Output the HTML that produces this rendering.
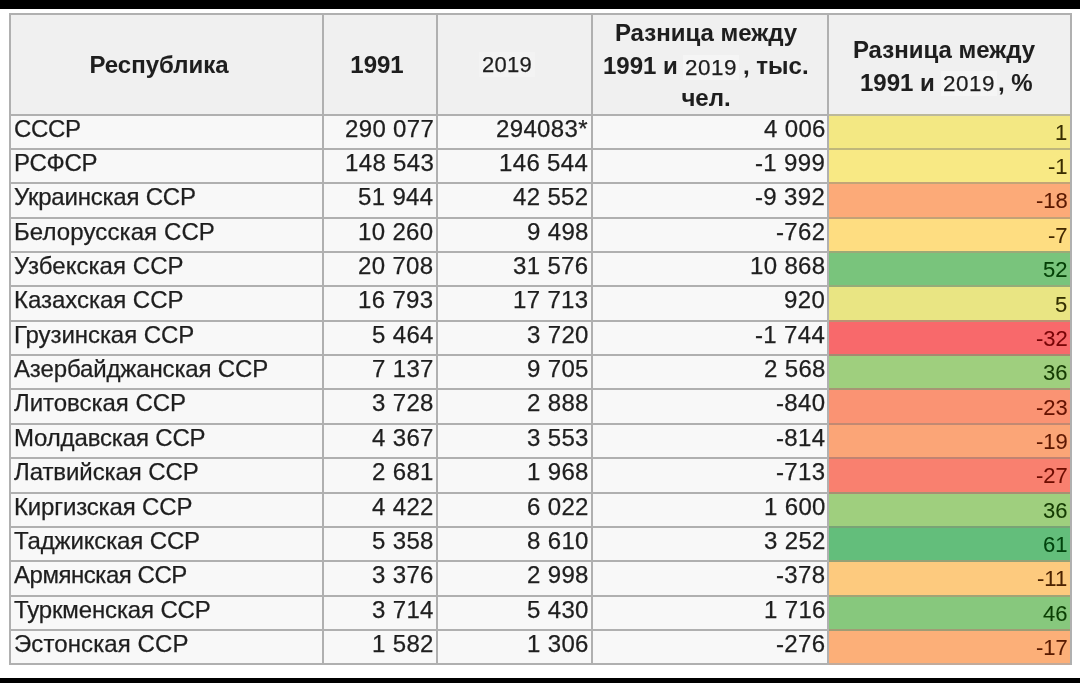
<!DOCTYPE html><html><head><meta charset="utf-8"><style>
*{margin:0;padding:0;box-sizing:border-box}
html,body{width:1080px;height:683px;overflow:hidden;background:#fff}
body{position:relative;font-family:"Liberation Sans",sans-serif;color:#1e1e1e}
.a{position:absolute}
.h{background:#b0b0b0}
.t{position:absolute;white-space:nowrap;will-change:transform;-webkit-text-stroke:0.25px currentColor}
.b{font-weight:bold;-webkit-text-stroke:0.05px currentColor}
.y{font-weight:normal}
</style></head><body><div style="position:absolute;left:0;top:0;width:1080px;height:683px">

<div class="a" style="left:0;top:0;width:1080px;height:9px;background:#000"></div>
<div class="a" style="left:0;top:678px;width:1080px;height:5px;background:#000"></div>
<div class="a" style="left:10px;top:14px;width:1060.5px;height:100.4px;background:#f0f0f0"></div>
<div class="a" style="left:10px;top:114.4px;width:1060.5px;height:550px;background:#f8f8f8"></div>
<div class="a" style="left:828px;top:114px;width:242px;height:35px;background:rgb(243, 232, 131)"></div>
<div class="a" style="left:828px;top:149px;width:242px;height:34px;background:rgb(248, 233, 132)"></div>
<div class="a" style="left:828px;top:183px;width:242px;height:34px;background:rgb(252, 170, 120)"></div>
<div class="a" style="left:828px;top:217px;width:242px;height:35px;background:rgb(254, 221, 129)"></div>
<div class="a" style="left:828px;top:252px;width:242px;height:34px;background:rgb(121, 196, 124)"></div>
<div class="a" style="left:828px;top:286px;width:242px;height:35px;background:rgb(233, 229, 131)"></div>
<div class="a" style="left:828px;top:321px;width:242px;height:34px;background:rgb(248, 105, 107)"></div>
<div class="a" style="left:828px;top:355px;width:242px;height:34px;background:rgb(159, 207, 126)"></div>
<div class="a" style="left:828px;top:389px;width:242px;height:35px;background:rgb(250, 147, 115)"></div>
<div class="a" style="left:828px;top:424px;width:242px;height:34px;background:rgb(251, 165, 119)"></div>
<div class="a" style="left:828px;top:458px;width:242px;height:34px;background:rgb(249, 128, 111)"></div>
<div class="a" style="left:828px;top:492px;width:242px;height:35px;background:rgb(159, 207, 126)"></div>
<div class="a" style="left:828px;top:527px;width:242px;height:34px;background:rgb(99, 190, 123)"></div>
<div class="a" style="left:828px;top:561px;width:242px;height:34px;background:rgb(253, 202, 126)"></div>
<div class="a" style="left:828px;top:595px;width:242px;height:35px;background:rgb(135, 200, 125)"></div>
<div class="a" style="left:828px;top:630px;width:242px;height:34px;background:rgb(252, 175, 120)"></div>
<div class="a h" style="left:9px;top:13px;width:1062.5px;height:2px"></div>
<div class="a h" style="left:9px;top:114px;width:1062.5px;height:2px"></div>
<div class="a h" style="left:9px;top:148px;width:1062.5px;height:2px"></div>
<div class="a h" style="left:9px;top:182px;width:1062.5px;height:2px"></div>
<div class="a h" style="left:9px;top:217px;width:1062.5px;height:2px"></div>
<div class="a h" style="left:9px;top:251px;width:1062.5px;height:2px"></div>
<div class="a h" style="left:9px;top:285px;width:1062.5px;height:2px"></div>
<div class="a h" style="left:9px;top:320px;width:1062.5px;height:2px"></div>
<div class="a h" style="left:9px;top:354px;width:1062.5px;height:2px"></div>
<div class="a h" style="left:9px;top:388px;width:1062.5px;height:2px"></div>
<div class="a h" style="left:9px;top:423px;width:1062.5px;height:2px"></div>
<div class="a h" style="left:9px;top:457px;width:1062.5px;height:2px"></div>
<div class="a h" style="left:9px;top:492px;width:1062.5px;height:2px"></div>
<div class="a h" style="left:9px;top:526px;width:1062.5px;height:2px"></div>
<div class="a h" style="left:9px;top:560px;width:1062.5px;height:2px"></div>
<div class="a h" style="left:9px;top:595px;width:1062.5px;height:2px"></div>
<div class="a h" style="left:9px;top:629px;width:1062.5px;height:2px"></div>
<div class="a h" style="left:9px;top:663px;width:1062.5px;height:2px"></div>
<div class="a" style="left:828px;top:114px;width:242px;height:2px;background:rgb(188, 185, 155)"></div>
<div class="a" style="left:828px;top:148px;width:242px;height:2px;background:rgb(191, 183, 122)"></div>
<div class="a" style="left:828px;top:182px;width:242px;height:2px;background:rgb(194, 164, 119)"></div>
<div class="a" style="left:828px;top:217px;width:242px;height:2px;background:rgb(195, 161, 118)"></div>
<div class="a" style="left:828px;top:251px;width:242px;height:2px;background:rgb(156, 169, 119)"></div>
<div class="a" style="left:828px;top:285px;width:242px;height:2px;background:rgb(150, 171, 120)"></div>
<div class="a" style="left:828px;top:320px;width:242px;height:2px;background:rgb(188, 144, 115)"></div>
<div class="a" style="left:828px;top:354px;width:242px;height:2px;background:rgb(166, 137, 113)"></div>
<div class="a" style="left:828px;top:388px;width:242px;height:2px;background:rgb(166, 150, 116)"></div>
<div class="a" style="left:828px;top:423px;width:242px;height:2px;background:rgb(194, 137, 114)"></div>
<div class="a" style="left:828px;top:457px;width:242px;height:2px;background:rgb(194, 131, 113)"></div>
<div class="a" style="left:828px;top:492px;width:242px;height:2px;background:rgb(166, 144, 115)"></div>
<div class="a" style="left:828px;top:526px;width:242px;height:2px;background:rgb(121, 163, 118)"></div>
<div class="a" style="left:828px;top:560px;width:242px;height:2px;background:rgb(149, 161, 118)"></div>
<div class="a" style="left:828px;top:595px;width:242px;height:2px;background:rgb(160, 164, 119)"></div>
<div class="a" style="left:828px;top:629px;width:242px;height:2px;background:rgb(160, 156, 117)"></div>
<div class="a" style="left:828px;top:663px;width:242px;height:2px;background:rgb(194, 171, 155)"></div>
<div class="a h" style="left:9px;top:13px;width:2px;height:652px"></div>
<div class="a h" style="left:322px;top:13px;width:2px;height:652px"></div>
<div class="a h" style="left:436px;top:13px;width:2px;height:652px"></div>
<div class="a h" style="left:591px;top:13px;width:2px;height:652px"></div>
<div class="a h" style="left:827px;top:13px;width:2px;height:652px"></div>
<div class="a h" style="left:1070px;top:13px;width:2px;height:652px"></div>
<div class="t b" style="left:-91.20px;width:500px;text-align:center;top:51.28px;font-size:24px;line-height:27.0px;">Республика</div>
<div class="t b" style="left:127.20px;width:500px;text-align:center;top:51.38px;font-size:24px;line-height:27.0px;">1991</div>
<div class="t " style="left:257.00px;width:500px;text-align:center;top:53.00px;font-size:22px;line-height:24.75px;letter-spacing:0.3px"><span style="background:#f3f3f3;padding:0 3px">2019</span></div>
<div class="t b" style="left:455.90px;width:500px;text-align:center;top:18.68px;font-size:24px;line-height:27.0px;">Разница между</div>
<div class="t b" style="left:603.00px;top:51.78px;font-size:24px;line-height:27.0px;">1991 и</div>
<div class="t " style="left:682.50px;top:54.84px;font-size:22.4px;line-height:25.2px;letter-spacing:0.55px;background:#f5f5f5;padding:0 2px">2019</div>
<div class="t b" style="left:742.50px;top:51.78px;font-size:24px;line-height:27.0px;">, тыс.</div>
<div class="t b" style="left:455.90px;width:500px;text-align:center;top:83.78px;font-size:24px;line-height:27.0px;">чел.</div>
<div class="t b" style="left:693.90px;width:500px;text-align:center;top:35.68px;font-size:24px;line-height:27.0px;">Разница между</div>
<div class="t b" style="left:859.50px;top:68.78px;font-size:24px;line-height:27.0px;">1991 и</div>
<div class="t " style="left:941.00px;top:71.24px;font-size:22.4px;line-height:25.2px;letter-spacing:0.55px;background:#f5f5f5;padding:0 2px">2019</div>
<div class="t b" style="left:998.00px;top:68.78px;font-size:24px;line-height:27.0px;">, %</div>
<div class="t " style="left:14.00px;top:114.58px;font-size:24px;line-height:27.0px;letter-spacing:-0.367px">СССР</div>
<div class="t " style="right:646.50px;text-align:right;top:114.58px;font-size:24px;line-height:27.0px;letter-spacing:0.35px;margin-right:-0.35px">290 077</div>
<div class="t " style="right:492.00px;text-align:right;top:114.58px;font-size:24px;line-height:27.0px;letter-spacing:0.35px;margin-right:-0.35px">294083*</div>
<div class="t " style="right:255.00px;text-align:right;top:114.58px;font-size:24px;line-height:27.0px;letter-spacing:0.35px;margin-right:-0.35px">4 006</div>
<div class="t " style="right:12.50px;text-align:right;top:120.70px;font-size:22px;line-height:24.75px;color:rgb(55, 46, 0);-webkit-text-stroke:0.1px currentColor">1</div>
<div class="t " style="left:14.00px;top:148.94px;font-size:24px;line-height:27.0px;letter-spacing:-0.275px">РСФСР</div>
<div class="t " style="right:646.50px;text-align:right;top:148.94px;font-size:24px;line-height:27.0px;letter-spacing:0.35px;margin-right:-0.35px">148 543</div>
<div class="t " style="right:492.00px;text-align:right;top:148.94px;font-size:24px;line-height:27.0px;letter-spacing:0.35px;margin-right:-0.35px">146 544</div>
<div class="t " style="right:255.00px;text-align:right;top:148.94px;font-size:24px;line-height:27.0px;letter-spacing:0.35px;margin-right:-0.35px">-1 999</div>
<div class="t " style="right:12.50px;text-align:right;top:155.06px;font-size:22px;line-height:24.75px;color:rgb(57, 45, 0);-webkit-text-stroke:0.1px currentColor">-1</div>
<div class="t " style="left:14.00px;top:183.30px;font-size:24px;line-height:27.0px;letter-spacing:-0.215px">Украинская ССР</div>
<div class="t " style="right:646.50px;text-align:right;top:183.30px;font-size:24px;line-height:27.0px;letter-spacing:0.35px;margin-right:-0.35px">51 944</div>
<div class="t " style="right:492.00px;text-align:right;top:183.30px;font-size:24px;line-height:27.0px;letter-spacing:0.35px;margin-right:-0.35px">42 552</div>
<div class="t " style="right:255.00px;text-align:right;top:183.30px;font-size:24px;line-height:27.0px;letter-spacing:0.35px;margin-right:-0.35px">-9 392</div>
<div class="t " style="right:12.50px;text-align:right;top:189.42px;font-size:22px;line-height:24.75px;color:rgb(90, 24, 0);-webkit-text-stroke:0.1px currentColor">-18</div>
<div class="t " style="left:14.00px;top:217.66px;font-size:24px;line-height:27.0px;letter-spacing:0.1px">Белорусская ССР</div>
<div class="t " style="right:646.50px;text-align:right;top:217.66px;font-size:24px;line-height:27.0px;letter-spacing:0.35px;margin-right:-0.35px">10 260</div>
<div class="t " style="right:492.00px;text-align:right;top:217.66px;font-size:24px;line-height:27.0px;letter-spacing:0.35px;margin-right:-0.35px">9 498</div>
<div class="t " style="right:255.00px;text-align:right;top:217.66px;font-size:24px;line-height:27.0px;letter-spacing:0.35px;margin-right:-0.35px">-762</div>
<div class="t " style="right:12.50px;text-align:right;top:223.78px;font-size:22px;line-height:24.75px;color:rgb(66, 40, 0);-webkit-text-stroke:0.1px currentColor">-7</div>
<div class="t " style="left:14.00px;top:252.02px;font-size:24px;line-height:27.0px;letter-spacing:0.05px">Узбекская ССР</div>
<div class="t " style="right:646.50px;text-align:right;top:252.02px;font-size:24px;line-height:27.0px;letter-spacing:0.35px;margin-right:-0.35px">20 708</div>
<div class="t " style="right:492.00px;text-align:right;top:252.02px;font-size:24px;line-height:27.0px;letter-spacing:0.35px;margin-right:-0.35px">31 576</div>
<div class="t " style="right:255.00px;text-align:right;top:252.02px;font-size:24px;line-height:27.0px;letter-spacing:0.35px;margin-right:-0.35px">10 868</div>
<div class="t " style="right:12.50px;text-align:right;top:258.14px;font-size:22px;line-height:24.75px;color:rgb(4, 64, 6);-webkit-text-stroke:0.1px currentColor">52</div>
<div class="t " style="left:14.00px;top:286.38px;font-size:24px;line-height:27.0px;letter-spacing:-0.033px">Казахская ССР</div>
<div class="t " style="right:646.50px;text-align:right;top:286.38px;font-size:24px;line-height:27.0px;letter-spacing:0.35px;margin-right:-0.35px">16 793</div>
<div class="t " style="right:492.00px;text-align:right;top:286.38px;font-size:24px;line-height:27.0px;letter-spacing:0.35px;margin-right:-0.35px">17 713</div>
<div class="t " style="right:255.00px;text-align:right;top:286.38px;font-size:24px;line-height:27.0px;letter-spacing:0.35px;margin-right:-0.35px">920</div>
<div class="t " style="right:12.50px;text-align:right;top:292.50px;font-size:22px;line-height:24.75px;color:rgb(51, 47, 0);-webkit-text-stroke:0.1px currentColor">5</div>
<div class="t " style="left:14.00px;top:320.74px;font-size:24px;line-height:27.0px;letter-spacing:-0.069px">Грузинская ССР</div>
<div class="t " style="right:646.50px;text-align:right;top:320.74px;font-size:24px;line-height:27.0px;letter-spacing:0.35px;margin-right:-0.35px">5 464</div>
<div class="t " style="right:492.00px;text-align:right;top:320.74px;font-size:24px;line-height:27.0px;letter-spacing:0.35px;margin-right:-0.35px">3 720</div>
<div class="t " style="right:255.00px;text-align:right;top:320.74px;font-size:24px;line-height:27.0px;letter-spacing:0.35px;margin-right:-0.35px">-1 744</div>
<div class="t " style="right:12.50px;text-align:right;top:326.86px;font-size:22px;line-height:24.75px;color:rgb(120, 5, 7);-webkit-text-stroke:0.1px currentColor">-32</div>
<div class="t " style="left:14.00px;top:355.10px;font-size:24px;line-height:27.0px;letter-spacing:-0.139px">Азербайджанская ССР</div>
<div class="t " style="right:646.50px;text-align:right;top:355.10px;font-size:24px;line-height:27.0px;letter-spacing:0.35px;margin-right:-0.35px">7 137</div>
<div class="t " style="right:492.00px;text-align:right;top:355.10px;font-size:24px;line-height:27.0px;letter-spacing:0.35px;margin-right:-0.35px">9 705</div>
<div class="t " style="right:255.00px;text-align:right;top:355.10px;font-size:24px;line-height:27.0px;letter-spacing:0.35px;margin-right:-0.35px">2 568</div>
<div class="t " style="right:12.50px;text-align:right;top:361.22px;font-size:22px;line-height:24.75px;color:rgb(20, 58, 0);-webkit-text-stroke:0.1px currentColor">36</div>
<div class="t " style="left:14.00px;top:389.46px;font-size:24px;line-height:27.0px;letter-spacing:-0.033px">Литовская ССР</div>
<div class="t " style="right:646.50px;text-align:right;top:389.46px;font-size:24px;line-height:27.0px;letter-spacing:0.35px;margin-right:-0.35px">3 728</div>
<div class="t " style="right:492.00px;text-align:right;top:389.46px;font-size:24px;line-height:27.0px;letter-spacing:0.35px;margin-right:-0.35px">2 888</div>
<div class="t " style="right:255.00px;text-align:right;top:389.46px;font-size:24px;line-height:27.0px;letter-spacing:0.35px;margin-right:-0.35px">-840</div>
<div class="t " style="right:12.50px;text-align:right;top:395.58px;font-size:22px;line-height:24.75px;color:rgb(100, 18, 0);-webkit-text-stroke:0.1px currentColor">-23</div>
<div class="t " style="left:14.00px;top:423.82px;font-size:24px;line-height:27.0px;letter-spacing:-0.154px">Молдавская ССР</div>
<div class="t " style="right:646.50px;text-align:right;top:423.82px;font-size:24px;line-height:27.0px;letter-spacing:0.35px;margin-right:-0.35px">4 367</div>
<div class="t " style="right:492.00px;text-align:right;top:423.82px;font-size:24px;line-height:27.0px;letter-spacing:0.35px;margin-right:-0.35px">3 553</div>
<div class="t " style="right:255.00px;text-align:right;top:423.82px;font-size:24px;line-height:27.0px;letter-spacing:0.35px;margin-right:-0.35px">-814</div>
<div class="t " style="right:12.50px;text-align:right;top:429.94px;font-size:22px;line-height:24.75px;color:rgb(92, 23, 0);-webkit-text-stroke:0.1px currentColor">-19</div>
<div class="t " style="left:14.00px;top:458.18px;font-size:24px;line-height:27.0px;letter-spacing:-0.077px">Латвийская ССР</div>
<div class="t " style="right:646.50px;text-align:right;top:458.18px;font-size:24px;line-height:27.0px;letter-spacing:0.35px;margin-right:-0.35px">2 681</div>
<div class="t " style="right:492.00px;text-align:right;top:458.18px;font-size:24px;line-height:27.0px;letter-spacing:0.35px;margin-right:-0.35px">1 968</div>
<div class="t " style="right:255.00px;text-align:right;top:458.18px;font-size:24px;line-height:27.0px;letter-spacing:0.35px;margin-right:-0.35px">-713</div>
<div class="t " style="right:12.50px;text-align:right;top:464.30px;font-size:22px;line-height:24.75px;color:rgb(109, 12, 0);-webkit-text-stroke:0.1px currentColor">-27</div>
<div class="t " style="left:14.00px;top:492.54px;font-size:24px;line-height:27.0px;letter-spacing:-0.146px">Киргизская ССР</div>
<div class="t " style="right:646.50px;text-align:right;top:492.54px;font-size:24px;line-height:27.0px;letter-spacing:0.35px;margin-right:-0.35px">4 422</div>
<div class="t " style="right:492.00px;text-align:right;top:492.54px;font-size:24px;line-height:27.0px;letter-spacing:0.35px;margin-right:-0.35px">6 022</div>
<div class="t " style="right:255.00px;text-align:right;top:492.54px;font-size:24px;line-height:27.0px;letter-spacing:0.35px;margin-right:-0.35px">1 600</div>
<div class="t " style="right:12.50px;text-align:right;top:498.66px;font-size:22px;line-height:24.75px;color:rgb(20, 58, 0);-webkit-text-stroke:0.1px currentColor">36</div>
<div class="t " style="left:14.00px;top:526.90px;font-size:24px;line-height:27.0px;letter-spacing:-0.138px">Таджикская ССР</div>
<div class="t " style="right:646.50px;text-align:right;top:526.90px;font-size:24px;line-height:27.0px;letter-spacing:0.35px;margin-right:-0.35px">5 358</div>
<div class="t " style="right:492.00px;text-align:right;top:526.90px;font-size:24px;line-height:27.0px;letter-spacing:0.35px;margin-right:-0.35px">8 610</div>
<div class="t " style="right:255.00px;text-align:right;top:526.90px;font-size:24px;line-height:27.0px;letter-spacing:0.35px;margin-right:-0.35px">3 252</div>
<div class="t " style="right:12.50px;text-align:right;top:533.02px;font-size:22px;line-height:24.75px;color:rgb(0, 67, 14);-webkit-text-stroke:0.1px currentColor">61</div>
<div class="t " style="left:14.00px;top:561.26px;font-size:24px;line-height:27.0px;letter-spacing:-0.458px">Армянская ССР</div>
<div class="t " style="right:646.50px;text-align:right;top:561.26px;font-size:24px;line-height:27.0px;letter-spacing:0.35px;margin-right:-0.35px">3 376</div>
<div class="t " style="right:492.00px;text-align:right;top:561.26px;font-size:24px;line-height:27.0px;letter-spacing:0.35px;margin-right:-0.35px">2 998</div>
<div class="t " style="right:255.00px;text-align:right;top:561.26px;font-size:24px;line-height:27.0px;letter-spacing:0.35px;margin-right:-0.35px">-378</div>
<div class="t " style="right:12.50px;text-align:right;top:567.38px;font-size:22px;line-height:24.75px;color:rgb(75, 34, 0);-webkit-text-stroke:0.1px currentColor">-11</div>
<div class="t " style="left:14.00px;top:595.62px;font-size:24px;line-height:27.0px;letter-spacing:-0.136px">Туркменская ССР</div>
<div class="t " style="right:646.50px;text-align:right;top:595.62px;font-size:24px;line-height:27.0px;letter-spacing:0.35px;margin-right:-0.35px">3 714</div>
<div class="t " style="right:492.00px;text-align:right;top:595.62px;font-size:24px;line-height:27.0px;letter-spacing:0.35px;margin-right:-0.35px">5 430</div>
<div class="t " style="right:255.00px;text-align:right;top:595.62px;font-size:24px;line-height:27.0px;letter-spacing:0.35px;margin-right:-0.35px">1 716</div>
<div class="t " style="right:12.50px;text-align:right;top:601.74px;font-size:22px;line-height:24.75px;color:rgb(10, 62, 2);-webkit-text-stroke:0.1px currentColor">46</div>
<div class="t " style="left:14.00px;top:629.98px;font-size:24px;line-height:27.0px;letter-spacing:0.092px">Эстонская ССР</div>
<div class="t " style="right:646.50px;text-align:right;top:629.98px;font-size:24px;line-height:27.0px;letter-spacing:0.35px;margin-right:-0.35px">1 582</div>
<div class="t " style="right:492.00px;text-align:right;top:629.98px;font-size:24px;line-height:27.0px;letter-spacing:0.35px;margin-right:-0.35px">1 306</div>
<div class="t " style="right:255.00px;text-align:right;top:629.98px;font-size:24px;line-height:27.0px;letter-spacing:0.35px;margin-right:-0.35px">-276</div>
<div class="t " style="right:12.50px;text-align:right;top:636.10px;font-size:22px;line-height:24.75px;color:rgb(88, 26, 0);-webkit-text-stroke:0.1px currentColor">-17</div>
</div></body></html>
